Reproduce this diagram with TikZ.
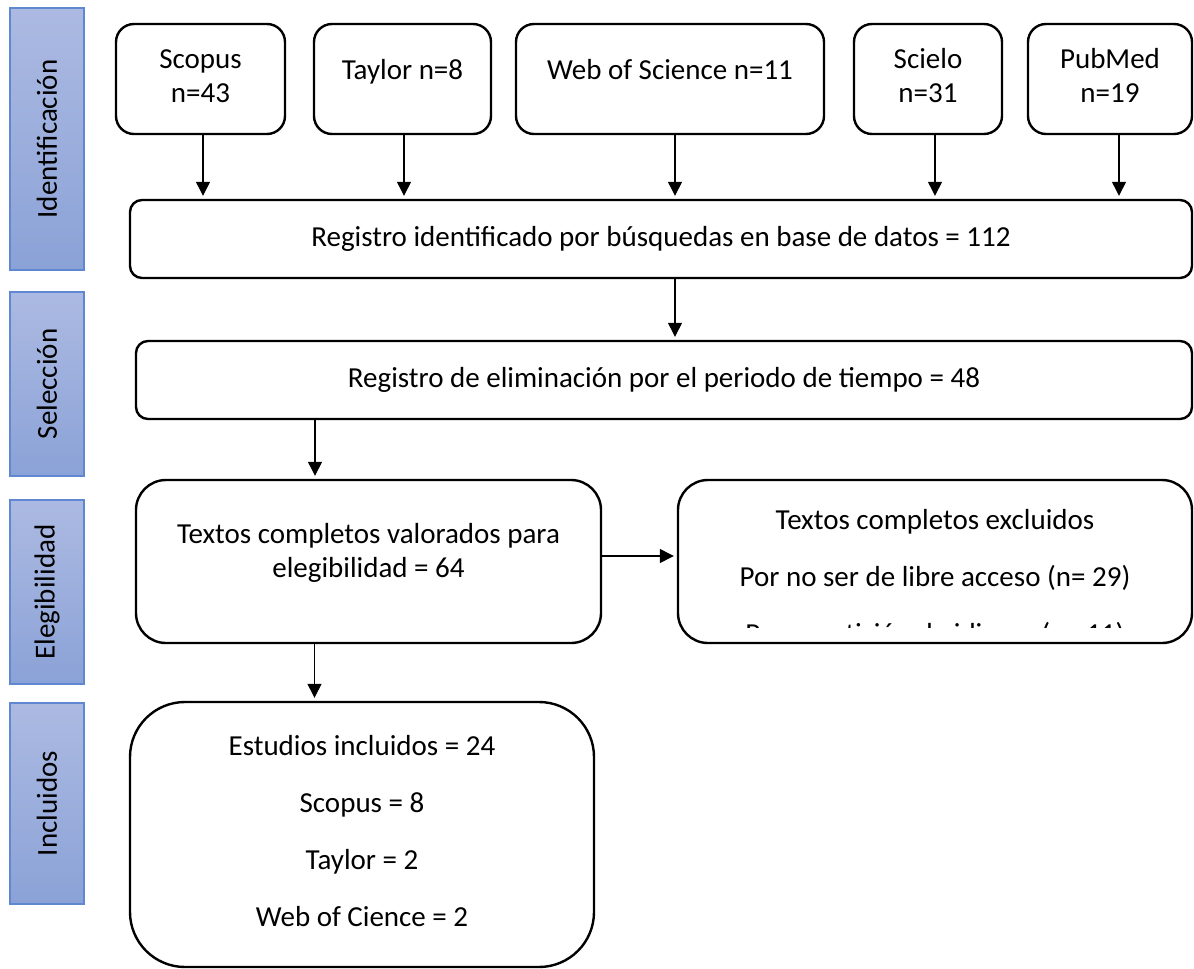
\documentclass[tikz,border=0pt]{standalone}
\usepackage{fontspec}
\setmainfont{Carlito}
\usetikzlibrary{arrows.meta}
\definecolor{bandtop}{RGB}{172,186,226}
\definecolor{bandbot}{RGB}{139,162,215}
\definecolor{bandline}{RGB}{95,135,210}
\tikzset{
  txt/.style={font=\fontsize{29}{34}\selectfont, inner sep=0pt, align=center},
  band/.style={draw=bandline, line width=1.2pt, top color=bandtop, bottom color=bandbot, inner sep=0pt},
  bandtxt/.style={txt, rotate=90},
  srcbox/.style={draw, line width=2.4pt, rounded corners=18pt, inner sep=0pt},
  widebox/.style={draw, line width=2.4pt, rounded corners=12pt, inner sep=0pt},
  midbox/.style={draw, line width=2.4pt, rounded corners=30pt, inner sep=0pt},
  bigbox/.style={draw, line width=2.4pt, rounded corners=55pt, inner sep=0pt},
  arr/.style={line width=1.3pt, -{Triangle[width=14pt,length=14pt]}, shorten >=3pt}
}
\begin{document}
\begin{tikzpicture}[x=1pt,y=-1pt]
\useasboundingbox (0,0) rectangle (1194,969);
% phase bands
\node[band, minimum width=74pt, minimum height=262pt] (b1) at (47,139) {};
\node[band, minimum width=74pt, minimum height=184pt] (b2) at (47,384) {};
\node[band, minimum width=74pt, minimum height=184pt] (b3) at (47,592) {};
\node[band, minimum width=74pt, minimum height=201pt] (b4) at (47,803.5) {};
\node[bandtxt] (t1) at (b1.center) {Identificación};
\node[bandtxt] (t2) at (b2.center) {Selección};
\node[bandtxt] (t3) at (b3.center) {Elegibilidad};
\node[bandtxt] (t4) at (b4.center) {Incluidos};
% source boxes
\node[srcbox, minimum width=169pt, minimum height=110pt] (scopus) at (200.5,79) {};
\node[srcbox, minimum width=177pt, minimum height=110pt] (taylor) at (402.5,79) {};
\node[srcbox, minimum width=308pt, minimum height=110pt] (wos) at (670,79) {};
\node[srcbox, minimum width=148pt, minimum height=110pt] (scielo) at (928,79) {};
\node[srcbox, minimum width=164pt, minimum height=110pt] (pubmed) at (1110,79) {};
\node[txt, anchor=base] (tscopus) at (200.5,102) {Scopus\\n=43};
\node[txt, anchor=base] (ttaylor) at (402.5,79) {Taylor n=8};
\node[txt, anchor=base] (twos) at (670,79) {Web of Science n=11};
\node[txt, anchor=base] (tscielo) at (928,102) {Scielo\\n=31};
\node[txt, anchor=base] (tpubmed) at (1110,102) {PubMed\\n=19};
% main flow boxes
\node[widebox, minimum width=1062pt, minimum height=78pt] (reg) at (661,239) {};
\node[txt, anchor=base] (treg) at (661,246) {Registro identificado por búsquedas en base de datos = 112};
\node[widebox, minimum width=1056pt, minimum height=78pt] (sel) at (664,380) {};
\node[txt, anchor=base] (tsel) at (664,387) {Registro de eliminación por el periodo de tiempo = 48};
\node[midbox, minimum width=465pt, minimum height=163pt] (val) at (368.5,561.5) {};
\node[txt, anchor=base] (tval) at (368.5,577) {Textos completos valorados para\\elegibilidad = 64};
\node[midbox, minimum width=514pt, minimum height=163pt] (exc) at (935,561.5) {};
\node[txt, anchor=base] (texc1) at (935,529) {Textos completos excluidos};
\node[txt, anchor=base] (texc2) at (935,586) {Por no ser de libre acceso (n= 29)};
\begin{scope}
\clip (678,480) rectangle (1192,627);
\node[txt, anchor=base] (texc3) at (935,643) {Por repetición de idioma (n= 11)};
\end{scope}
\node[bigbox, minimum width=464pt, minimum height=265pt] (inc) at (362,834.5) {};
\node[txt, anchor=base] (tinc1) at (362,755) {Estudios incluidos = 24};
\node[txt, anchor=base] (tinc2) at (362,812) {Scopus = 8};
\node[txt, anchor=base] (tinc3) at (362,869) {Taylor = 2};
\node[txt, anchor=base] (tinc4) at (362,926) {Web of Cience = 2};
% connectors
\draw[arr] ([xshift=2.5pt]scopus.south) -- ([xshift=2.5pt]scopus.south |- reg.north);
\draw[arr] ([xshift=1.5pt]taylor.south) -- ([xshift=1.5pt]taylor.south |- reg.north);
\draw[arr] ([xshift=5pt]wos.south) -- ([xshift=5pt]wos.south |- reg.north);
\draw[arr] ([xshift=7pt]scielo.south) -- ([xshift=7pt]scielo.south |- reg.north);
\draw[arr] ([xshift=9pt]pubmed.south) -- ([xshift=9pt]pubmed.south |- reg.north);
\draw[arr] ([xshift=14pt]reg.south) -- ([xshift=14pt]reg.south |- sel.north);
\draw[arr] ([xshift=-349pt]sel.south) -- ([xshift=-349pt]sel.south |- val.north);
\draw[arr] ([yshift=5.5pt]val.east) -- ([yshift=5.5pt]val.east -| exc.west);
\draw[arr] ([xshift=-54pt]val.south) -- ([xshift=-54pt]val.south |- inc.north);
\end{tikzpicture}
\end{document}
